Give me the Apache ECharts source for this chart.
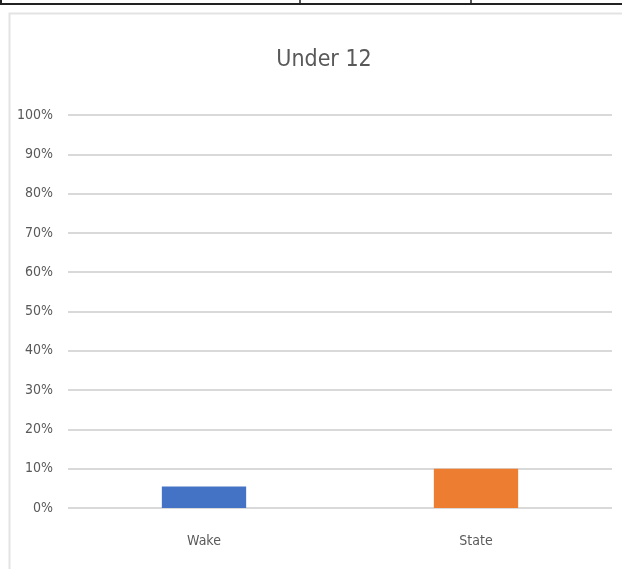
<!DOCTYPE html>
<html>
<head>
<meta charset="utf-8">
<script src="https://cdn.jsdelivr.net/npm/echarts@6/dist/echarts.min.js"></script>
<style>
  html, body { margin: 0; padding: 0; background: #fff; }
  #chart { width: 622px; height: 569px; }
</style>
</head>
<body>
<div id="chart"></div>
<script>
const categories = ['Wake', 'State'];
const values = [0.055, 0.10];
const barColors = ['#4472C4', '#ED7D31'];
const yTicks = [0, 0.1, 0.2, 0.3, 0.4, 0.5, 0.6, 0.7, 0.8, 0.9, 1];

const fontFamily = '"Liberation Sans Narrow", "DejaVu Sans Condensed", "Open Sans", sans-serif';

var myChart = echarts.init(document.getElementById('chart'));

let option = {
  backgroundColor: '#fff',
  animation: false,
  title: {
    text: 'Under 12',
    left: 319,
    top: 44,
    textAlign: 'center',
    textStyle: { color: '#595959', fontSize: 23, fontWeight: 'normal', fontFamily: fontFamily }
  },
  grid: { left: 68, right: 10, top: 115, bottom: 61 },
  xAxis: {
    type: 'category',
    data: categories,
    axisLine: { show: false },
    axisTick: { show: false },
    axisLabel: { color: '#595959', fontSize: 14, margin: 26, fontFamily: fontFamily }
  },
  yAxis: {
    type: 'value',
    min: yTicks[0],
    max: yTicks[yTicks.length - 1],
    interval: 0.1,
    axisLine: { show: false },
    axisTick: { show: false },
    splitLine: { lineStyle: { color: '#d9d9d9', width: 2 } },
    axisLabel: {
      color: '#595959', fontSize: 14, margin: 15, fontFamily: fontFamily,
      formatter: v => Math.round(v * 100) + '%'
    }
  },
  series: [{
    type: 'bar',
    barWidth: '31%',
    data: values.map((v, i) => ({ value: v, itemStyle: { color: barColors[i] } }))
  }],
  graphic: [
    // chart frame
    { type: 'rect', shape: { x: 9.5, y: 13.5, width: 700, height: 700 },
      style: { fill: 'none', stroke: '#e3e3e3', lineWidth: 2 }, silent: true },
    // table edge above the chart
    { type: 'line', shape: { x1: 0, y1: 4, x2: 622, y2: 4 }, style: { stroke: '#222', lineWidth: 2 } },
    { type: 'line', shape: { x1: 1, y1: 0, x2: 1, y2: 5 }, style: { stroke: '#222', lineWidth: 2 } },
    { type: 'line', shape: { x1: 300, y1: 0, x2: 300, y2: 5 }, style: { stroke: '#222', lineWidth: 1.5 } },
    { type: 'line', shape: { x1: 471, y1: 0, x2: 471, y2: 5 }, style: { stroke: '#222', lineWidth: 1.5 } }
  ]
};
myChart.setOption(option);
</script>
</body>
</html>
